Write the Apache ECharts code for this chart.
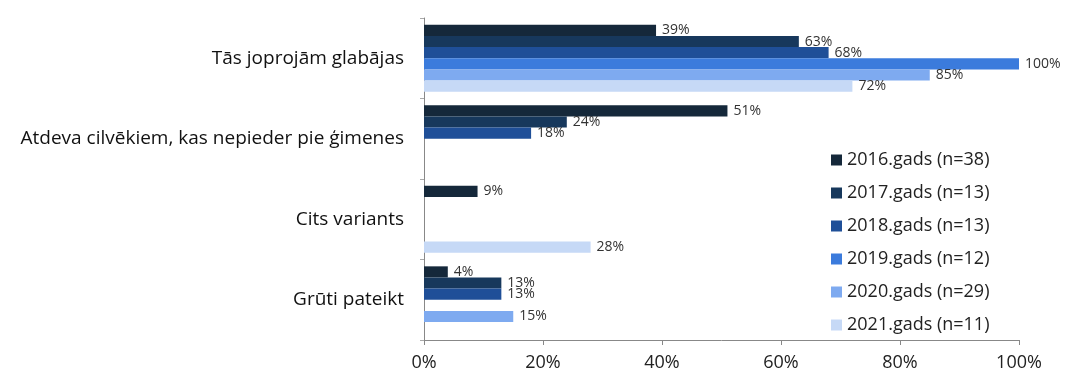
<!DOCTYPE html>
<html><head><meta charset="utf-8">
<script src="https://cdn.jsdelivr.net/npm/echarts@6/dist/echarts.min.js"></script>
<style>html,body{margin:0;padding:0;background:#fff}#c{width:1069px;height:378px}</style>
</head><body><div id="c"></div>
<script>
const categories = ['Tās joprojām glabājas', 'Atdeva cilvēkiem, kas nepieder pie ģimenes', 'Cits variants', 'Grūti pateikt'];
const seriesNames = ['2016.gads (n=38)', '2017.gads (n=13)', '2018.gads (n=13)', '2019.gads (n=12)', '2020.gads (n=29)', '2021.gads (n=11)'];
const v2016 = [39, 51, 9, 4];
const v2017 = [63, 24, null, 13];
const v2018 = [68, 18, null, 13];
const v2019 = [100, null, null, null];
const v2020 = [85, null, null, 15];
const v2021 = [72, null, 28, null];
const xTicks = [0, 20, 40, 60, 80, 100];
const colors = ['#15283a', '#17385c', '#1f4f98', '#3b7bdc', '#7eaaf0', '#c6d9f6'];

const values = [v2016, v2017, v2018, v2019, v2020, v2021];
const font = '"Open Sans", "Liberation Sans", sans-serif';
const chart = echarts.init(document.getElementById('c'));
chart.setOption({
  animation: false,
  textStyle: { fontFamily: font },
  grid: { left: 424, right: 50, top: 18, bottom: 38 },
  legend: {
    orient: 'vertical', left: 826, top: 146, itemGap: 15,
    itemWidth: 11, itemHeight: 11, icon: 'rect',
    textStyle: { fontSize: 18, color: '#222', fontFamily: font },
    data: seriesNames
  },
  xAxis: {
    type: 'value', min: xTicks[0], max: xTicks[xTicks.length - 1], interval: 20,
    axisLabel: { formatter: '{value}%', fontSize: 18, color: '#222', margin: 14 },
    axisLine: { show: true, lineStyle: { color: '#888' } },
    axisTick: { show: true, length: 5, lineStyle: { color: '#888' } },
    splitLine: { show: false }
  },
  yAxis: {
    type: 'category', data: categories, inverse: true,
    axisLabel: { fontSize: 19, color: '#111', margin: 20 },
    axisLine: { show: true, lineStyle: { color: '#888' } },
    axisTick: { show: true, length: 4, lineStyle: { color: '#aaa' } }
  },
  series: seriesNames.map((n, i) => ({
    name: n, type: 'bar', data: values[i],
    barGap: '0%', barCategoryGap: '17%',
    itemStyle: { color: colors[i] },
    label: { show: true, position: 'right', distance: 6, formatter: '{c}%', fontSize: 14, color: '#333' }
  }))
});
</script></body></html>
